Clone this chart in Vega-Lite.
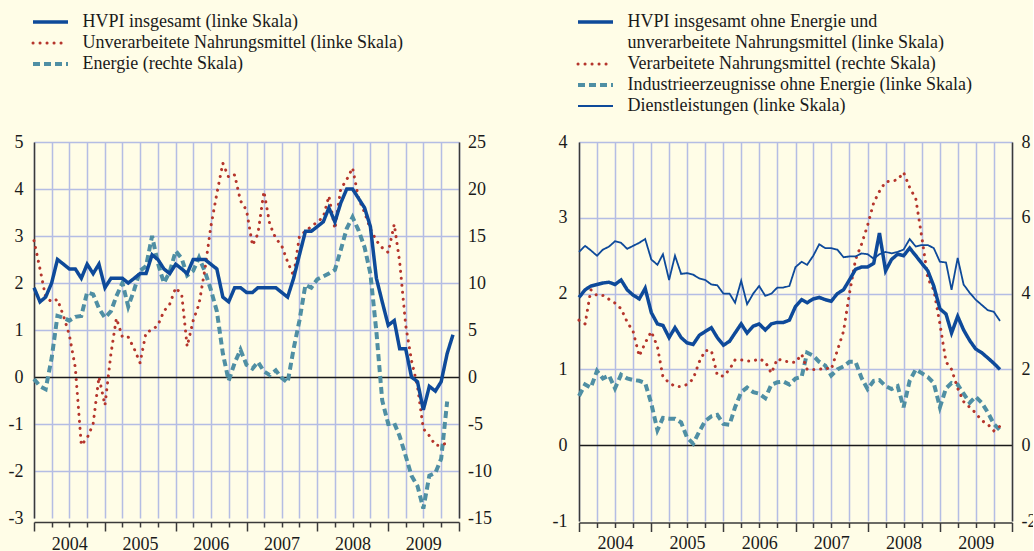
{
"$schema": "https://vega.github.io/schema/vega-lite/v6.json",
"background": "#fffde7",
"padding": {"left": 8, "top": 13, "right": -3, "bottom": -3},
"spacing": 60,
"config": {
  "view": {"stroke": null},
  "font": "Liberation Serif",
  "axis": {"labelFont": "Liberation Serif", "labelFontSize": 18, "labelColor": "#1a1a1a", "domainColor": "#3a3a3a", "domainWidth": 1.5, "ticks": false, "title": null, "gridColor": "#b4bde4", "gridWidth": 1.5},
  "legend": {"direction": "vertical", "padding": 0, "symbolType": "M-3.5,0H3.5", "symbolSize": 100, "symbolOffset": 8.5, "labelOffset": 23, "labelFont": "Liberation Serif", "labelFontSize": 18, "labelColor": "#1a1a1a", "rowPadding": 3, "labelLimit": 700}
},
"datasets": {
"L": [
{"d":"2004-01-01","h":1.9,"f":2.9,"e":-0.2},
{"d":"2004-02-01","h":1.6,"f":2.3,"e":-1.0},
{"d":"2004-03-01","h":1.7,"f":1.7,"e":-1.3},
{"d":"2004-04-01","h":2.0,"f":1.6,"e":2.0},
{"d":"2004-05-01","h":2.5,"f":1.65,"e":6.5},
{"d":"2004-06-01","h":2.4,"f":1.3,"e":6.3},
{"d":"2004-07-01","h":2.3,"f":0.9,"e":6.0},
{"d":"2004-08-01","h":2.3,"f":0.2,"e":6.4},
{"d":"2004-09-01","h":2.1,"f":-1.45,"e":6.5},
{"d":"2004-10-01","h":2.4,"f":-1.3,"e":9.0},
{"d":"2004-11-01","h":2.2,"f":-1.0,"e":8.8},
{"d":"2004-12-01","h":2.4,"f":0.0,"e":7.3},
{"d":"2005-01-01","h":1.9,"f":-0.6,"e":6.3},
{"d":"2005-02-01","h":2.1,"f":0.5,"e":7.0},
{"d":"2005-03-01","h":2.1,"f":1.25,"e":8.6},
{"d":"2005-04-01","h":2.1,"f":0.85,"e":10.0},
{"d":"2005-05-01","h":2.0,"f":0.85,"e":7.5},
{"d":"2005-06-01","h":2.1,"f":0.6,"e":9.3},
{"d":"2005-07-01","h":2.2,"f":0.3,"e":11.3},
{"d":"2005-08-01","h":2.2,"f":0.95,"e":11.8},
{"d":"2005-09-01","h":2.6,"f":1.0,"e":15.0},
{"d":"2005-10-01","h":2.5,"f":1.1,"e":12.1},
{"d":"2005-11-01","h":2.3,"f":1.4,"e":10.0},
{"d":"2005-12-01","h":2.2,"f":1.55,"e":11.2},
{"d":"2006-01-01","h":2.4,"f":1.9,"e":13.4},
{"d":"2006-02-01","h":2.3,"f":1.75,"e":12.6},
{"d":"2006-03-01","h":2.2,"f":0.65,"e":10.8},
{"d":"2006-04-01","h":2.5,"f":1.2,"e":11.3},
{"d":"2006-05-01","h":2.5,"f":1.55,"e":12.7},
{"d":"2006-06-01","h":2.5,"f":2.3,"e":11.2},
{"d":"2006-07-01","h":2.4,"f":3.2,"e":9.3},
{"d":"2006-08-01","h":2.3,"f":3.9,"e":7.0},
{"d":"2006-09-01","h":1.7,"f":4.55,"e":2.5},
{"d":"2006-10-01","h":1.6,"f":4.25,"e":-0.4},
{"d":"2006-11-01","h":1.9,"f":4.3,"e":1.5},
{"d":"2006-12-01","h":1.9,"f":3.75,"e":2.9},
{"d":"2007-01-01","h":1.8,"f":3.55,"e":1.3},
{"d":"2007-02-01","h":1.8,"f":2.8,"e":0.9},
{"d":"2007-03-01","h":1.9,"f":3.05,"e":1.6},
{"d":"2007-04-01","h":1.9,"f":3.95,"e":0.6},
{"d":"2007-05-01","h":1.9,"f":3.25,"e":0.2},
{"d":"2007-06-01","h":1.9,"f":2.95,"e":0.7},
{"d":"2007-07-01","h":1.8,"f":2.8,"e":-0.1},
{"d":"2007-08-01","h":1.7,"f":2.45,"e":-0.6},
{"d":"2007-09-01","h":2.1,"f":2.15,"e":3.0},
{"d":"2007-10-01","h":2.6,"f":3.0,"e":6.0},
{"d":"2007-11-01","h":3.1,"f":3.1,"e":9.8},
{"d":"2007-12-01","h":3.1,"f":3.2,"e":9.5},
{"d":"2008-01-01","h":3.2,"f":3.3,"e":10.4},
{"d":"2008-02-01","h":3.3,"f":3.4,"e":10.7},
{"d":"2008-03-01","h":3.6,"f":3.85,"e":11.0},
{"d":"2008-04-01","h":3.3,"f":3.15,"e":11.4},
{"d":"2008-05-01","h":3.7,"f":4.0,"e":13.5},
{"d":"2008-06-01","h":4.0,"f":4.2,"e":15.8},
{"d":"2008-07-01","h":4.0,"f":4.45,"e":17.0},
{"d":"2008-08-01","h":3.8,"f":3.8,"e":15.6},
{"d":"2008-09-01","h":3.6,"f":3.5,"e":13.8},
{"d":"2008-10-01","h":3.2,"f":3.15,"e":11.0},
{"d":"2008-11-01","h":2.1,"f":2.9,"e":4.8},
{"d":"2008-12-01","h":1.6,"f":2.75,"e":-2.5},
{"d":"2009-01-01","h":1.1,"f":2.65,"e":-5.0},
{"d":"2009-02-01","h":1.2,"f":3.25,"e":-4.9},
{"d":"2009-03-01","h":0.6,"f":2.45,"e":-6.3},
{"d":"2009-04-01","h":0.6,"f":1.1,"e":-8.4},
{"d":"2009-05-01","h":0.0,"f":0.35,"e":-10.5},
{"d":"2009-06-01","h":-0.1,"f":-0.2,"e":-11.6},
{"d":"2009-07-01","h":-0.7,"f":-1.1,"e":-14.0},
{"d":"2009-08-01","h":-0.2,"f":-1.25,"e":-10.5},
{"d":"2009-09-01","h":-0.3,"f":-1.45,"e":-10.2},
{"d":"2009-10-01","h":-0.1,"f":-1.45,"e":-8.7},
{"d":"2009-11-01","h":0.5,"f":-1.4,"e":-2.6},
{"d":"2009-12-01","h":0.9}
],
"R": [
{"d":"2004-01-01","c":1.95,"p":3.3,"i":0.65,"s":2.55},
{"d":"2004-02-01","c":2.05,"p":3.2,"i":0.8,"s":2.63},
{"d":"2004-03-01","c":2.1,"p":4.1,"i":0.76,"s":2.57},
{"d":"2004-04-01","c":2.12,"p":3.95,"i":0.98,"s":2.5},
{"d":"2004-05-01","c":2.14,"p":3.95,"i":0.88,"s":2.58},
{"d":"2004-06-01","c":2.15,"p":3.85,"i":0.92,"s":2.62},
{"d":"2004-07-01","c":2.12,"p":3.75,"i":0.75,"s":2.69},
{"d":"2004-08-01","c":2.18,"p":3.6,"i":0.93,"s":2.67},
{"d":"2004-09-01","c":2.05,"p":3.25,"i":0.88,"s":2.59},
{"d":"2004-10-01","c":1.98,"p":3.0,"i":0.86,"s":2.63},
{"d":"2004-11-01","c":1.93,"p":2.35,"i":0.85,"s":2.67},
{"d":"2004-12-01","c":2.07,"p":2.7,"i":0.82,"s":2.72},
{"d":"2005-01-01","c":1.75,"p":3.0,"i":0.55,"s":2.45},
{"d":"2005-02-01","c":1.6,"p":2.6,"i":0.2,"s":2.38},
{"d":"2005-03-01","c":1.58,"p":1.8,"i":0.36,"s":2.52},
{"d":"2005-04-01","c":1.42,"p":1.65,"i":0.35,"s":2.18},
{"d":"2005-05-01","c":1.55,"p":1.55,"i":0.35,"s":2.5},
{"d":"2005-06-01","c":1.42,"p":1.55,"i":0.3,"s":2.26},
{"d":"2005-07-01","c":1.35,"p":1.6,"i":0.1,"s":2.27},
{"d":"2005-08-01","c":1.33,"p":1.75,"i":0.02,"s":2.25},
{"d":"2005-09-01","c":1.45,"p":2.2,"i":0.18,"s":2.2},
{"d":"2005-10-01","c":1.5,"p":2.5,"i":0.32,"s":2.18},
{"d":"2005-11-01","c":1.55,"p":2.5,"i":0.38,"s":2.12},
{"d":"2005-12-01","c":1.42,"p":1.85,"i":0.4,"s":2.11},
{"d":"2006-01-01","c":1.32,"p":1.82,"i":0.28,"s":2.0},
{"d":"2006-02-01","c":1.37,"p":2.0,"i":0.27,"s":2.0},
{"d":"2006-03-01","c":1.48,"p":2.25,"i":0.5,"s":1.88},
{"d":"2006-04-01","c":1.6,"p":2.25,"i":0.7,"s":2.17},
{"d":"2006-05-01","c":1.48,"p":2.22,"i":0.76,"s":1.86},
{"d":"2006-06-01","c":1.57,"p":2.22,"i":0.7,"s":2.0},
{"d":"2006-07-01","c":1.6,"p":2.28,"i":0.68,"s":2.1},
{"d":"2006-08-01","c":1.52,"p":2.2,"i":0.62,"s":1.97},
{"d":"2006-09-01","c":1.6,"p":1.9,"i":0.8,"s":2.0},
{"d":"2006-10-01","c":1.62,"p":2.28,"i":0.83,"s":2.08},
{"d":"2006-11-01","c":1.62,"p":2.22,"i":0.84,"s":2.08},
{"d":"2006-12-01","c":1.65,"p":2.2,"i":0.8,"s":2.1},
{"d":"2007-01-01","c":1.83,"p":2.18,"i":0.88,"s":2.35},
{"d":"2007-02-01","c":1.92,"p":2.4,"i":0.9,"s":2.42},
{"d":"2007-03-01","c":1.88,"p":2.0,"i":1.22,"s":2.38},
{"d":"2007-04-01","c":1.93,"p":2.0,"i":1.18,"s":2.5},
{"d":"2007-05-01","c":1.95,"p":2.0,"i":1.1,"s":2.65},
{"d":"2007-06-01","c":1.92,"p":2.04,"i":1.05,"s":2.6},
{"d":"2007-07-01","c":1.9,"p":2.0,"i":0.92,"s":2.6},
{"d":"2007-08-01","c":2.0,"p":2.5,"i":1.0,"s":2.58},
{"d":"2007-09-01","c":2.05,"p":3.0,"i":1.04,"s":2.48},
{"d":"2007-10-01","c":2.18,"p":4.0,"i":1.1,"s":2.49},
{"d":"2007-11-01","c":2.32,"p":4.9,"i":1.1,"s":2.49},
{"d":"2007-12-01","c":2.35,"p":5.3,"i":0.89,"s":2.53},
{"d":"2008-01-01","c":2.35,"p":5.8,"i":0.74,"s":2.52},
{"d":"2008-02-01","c":2.4,"p":6.4,"i":0.85,"s":2.46},
{"d":"2008-03-01","c":2.8,"p":6.7,"i":0.86,"s":2.52},
{"d":"2008-04-01","c":2.3,"p":6.95,"i":0.78,"s":2.55},
{"d":"2008-05-01","c":2.45,"p":6.97,"i":0.74,"s":2.53},
{"d":"2008-06-01","c":2.52,"p":7.0,"i":0.78,"s":2.55},
{"d":"2008-07-01","c":2.5,"p":7.2,"i":0.5,"s":2.58},
{"d":"2008-08-01","c":2.6,"p":6.8,"i":0.85,"s":2.72},
{"d":"2008-09-01","c":2.5,"p":6.5,"i":1.0,"s":2.62},
{"d":"2008-10-01","c":2.4,"p":5.5,"i":0.95,"s":2.64},
{"d":"2008-11-01","c":2.3,"p":4.4,"i":0.9,"s":2.64},
{"d":"2008-12-01","c":2.1,"p":4.1,"i":0.82,"s":2.6},
{"d":"2009-01-01","c":1.8,"p":3.2,"i":0.5,"s":2.42},
{"d":"2009-02-01","c":1.73,"p":2.2,"i":0.75,"s":2.41},
{"d":"2009-03-01","c":1.48,"p":2.0,"i":0.82,"s":2.05},
{"d":"2009-04-01","c":1.7,"p":1.5,"i":0.8,"s":2.47},
{"d":"2009-05-01","c":1.52,"p":1.15,"i":0.68,"s":2.12},
{"d":"2009-06-01","c":1.38,"p":1.0,"i":0.56,"s":2.01},
{"d":"2009-07-01","c":1.27,"p":0.85,"i":0.64,"s":1.92},
{"d":"2009-08-01","c":1.22,"p":0.65,"i":0.56,"s":1.85},
{"d":"2009-09-01","c":1.15,"p":0.55,"i":0.43,"s":1.78},
{"d":"2009-10-01","c":1.08,"p":0.38,"i":0.28,"s":1.76},
{"d":"2009-11-01","c":1.0,"p":0.5,"i":0.2,"s":1.64}
]
},
"hconcat": [
{
  "width": 425, "height": 376,
  "data": {"name": "L"},
  "transform": [{"fold": ["h", "f", "e"], "as": ["k", "v"]}],
  "encoding": {
    "x": {"field": "d", "type": "temporal",
      "scale": {"type": "utc", "domain": [{"year":2004,"month":1,"date":1,"utc":true},{"year":2010,"month":1,"date":1,"utc":true}]},
      "axis": {
        "values": [{"year":2004,"month":1,"date":1,"utc":true},{"year":2004,"month":4,"date":1,"utc":true},{"year":2004,"month":7,"date":1,"utc":true},{"year":2004,"month":10,"date":1,"utc":true},
                   {"year":2005,"month":1,"date":1,"utc":true},{"year":2005,"month":4,"date":1,"utc":true},{"year":2005,"month":7,"date":1,"utc":true},{"year":2005,"month":10,"date":1,"utc":true},
                   {"year":2006,"month":1,"date":1,"utc":true},{"year":2006,"month":4,"date":1,"utc":true},{"year":2006,"month":7,"date":1,"utc":true},{"year":2006,"month":10,"date":1,"utc":true},
                   {"year":2007,"month":1,"date":1,"utc":true},{"year":2007,"month":4,"date":1,"utc":true},{"year":2007,"month":7,"date":1,"utc":true},{"year":2007,"month":10,"date":1,"utc":true},
                   {"year":2008,"month":1,"date":1,"utc":true},{"year":2008,"month":4,"date":1,"utc":true},{"year":2008,"month":7,"date":1,"utc":true},{"year":2008,"month":10,"date":1,"utc":true},
                   {"year":2009,"month":1,"date":1,"utc":true},{"year":2009,"month":4,"date":1,"utc":true},{"year":2009,"month":7,"date":1,"utc":true},{"year":2009,"month":10,"date":1,"utc":true},
                   {"year":2010,"month":1,"date":1,"utc":true}],
        "labelExpr": "utcFormat(datum.value, '%m') === '07' ? utcFormat(datum.value, '%Y') : ''",
        "grid": true, "ticks": true,
        "tickSize": {"condition": {"test": "utcFormat(datum.value, '%m') === '01'", "value": 9}, "value": 5},
        "tickColor": "#3a3a3a", "tickWidth": 1.5, "offset": 4, "labelPadding": 8,
        "labelOverlap": false, "labelFlush": false, "labelBaseline": "top"
      }
    },
    "color": {"field": "k", "type": "nominal", "title": null,
      "scale": {"domain": ["h", "f", "e"], "range": ["#0e4a9a", "#b5352c", "#4f8fa4"]},
      "legend": {"orient": "none", "legendX": -1, "legendY": -129,
        "encode": {"symbols": {"update": {"strokeCap": [{"test": "datum.value === 'f'", "value": "round"}, {"value": "butt"}]}}},
        "labelExpr": "datum.label === 'h' ? 'HVPI insgesamt (linke Skala)' : datum.label === 'f' ? 'Unverarbeitete Nahrungsmittel (linke Skala)' : 'Energie (rechte Skala)'"}},
    "strokeDash": {"field": "k", "type": "nominal", "title": null,
      "scale": {"domain": ["h", "f", "e"], "range": [[1, 0], [0.1, 6.9], [7, 4]]}},
    "strokeWidth": {"field": "k", "type": "nominal", "title": null,
      "scale": {"type": "ordinal", "domain": ["h", "f", "e"], "range": [3.5, 3, 4]}}
  },
  "layer": [
    {"transform": [{"filter": "datum.k === 'e'"}], "mark": {"type": "line"},
     "encoding": {"y": {"field": "v", "type": "quantitative", "scale": {"domain": [-15, 25], "nice": false, "zero": false},
        "axis": {"orient": "right", "values": [-15,-10,-5,0,5,10,15,20,25], "labelExpr": "datum.value + ''", "grid": false, "labelPadding": 8.5}}}},
    {"transform": [{"filter": "datum.k === 'f'"}], "mark": {"type": "line", "strokeCap": "round"},
     "encoding": {"y": {"field": "v", "type": "quantitative", "scale": {"domain": [-3, 5], "nice": false, "zero": false}, "axis": null}}},
    {"transform": [{"filter": "datum.k === 'h'"}], "mark": {"type": "line"},
     "encoding": {"y": {"field": "v", "type": "quantitative", "scale": {"domain": [-3, 5], "nice": false, "zero": false},
        "axis": {"orient": "left", "values": [-3,-2,-1,0,1,2,3,4,5], "labelExpr": "datum.value + ''", "grid": true,
          "gridColor": {"condition": {"test": "datum.value === 0", "value": "#1a1a1a"}, "value": "#b4bde4"},
          "gridOpacity": {"condition": {"test": "datum.value === -3", "value": 0}, "value": 1},
          "labelPadding": 11}}}}
  ],
  "resolve": {"scale": {"y": "independent"}}
},
{
  "width": 433, "height": 379,
  "data": {"name": "R"},
  "transform": [{"fold": ["c", "p", "i", "s"], "as": ["k", "v"]}],
  "encoding": {
    "x": {"field": "d", "type": "temporal",
      "scale": {"type": "utc", "domain": [{"year":2004,"month":1,"date":1,"utc":true},{"year":2010,"month":1,"date":1,"utc":true}]},
      "axis": {
        "values": [{"year":2004,"month":1,"date":1,"utc":true},{"year":2004,"month":4,"date":1,"utc":true},{"year":2004,"month":7,"date":1,"utc":true},{"year":2004,"month":10,"date":1,"utc":true},
                   {"year":2005,"month":1,"date":1,"utc":true},{"year":2005,"month":4,"date":1,"utc":true},{"year":2005,"month":7,"date":1,"utc":true},{"year":2005,"month":10,"date":1,"utc":true},
                   {"year":2006,"month":1,"date":1,"utc":true},{"year":2006,"month":4,"date":1,"utc":true},{"year":2006,"month":7,"date":1,"utc":true},{"year":2006,"month":10,"date":1,"utc":true},
                   {"year":2007,"month":1,"date":1,"utc":true},{"year":2007,"month":4,"date":1,"utc":true},{"year":2007,"month":7,"date":1,"utc":true},{"year":2007,"month":10,"date":1,"utc":true},
                   {"year":2008,"month":1,"date":1,"utc":true},{"year":2008,"month":4,"date":1,"utc":true},{"year":2008,"month":7,"date":1,"utc":true},{"year":2008,"month":10,"date":1,"utc":true},
                   {"year":2009,"month":1,"date":1,"utc":true},{"year":2009,"month":4,"date":1,"utc":true},{"year":2009,"month":7,"date":1,"utc":true},{"year":2009,"month":10,"date":1,"utc":true},
                   {"year":2010,"month":1,"date":1,"utc":true}],
        "labelExpr": "utcFormat(datum.value, '%m') === '07' ? utcFormat(datum.value, '%Y') : ''",
        "grid": true, "ticks": true,
        "tickSize": {"condition": {"test": "utcFormat(datum.value, '%m') === '01'", "value": 9}, "value": 5},
        "tickColor": "#3a3a3a", "tickWidth": 1.5, "offset": 1.5, "labelPadding": 7.3,
        "labelOverlap": false, "labelFlush": false, "labelBaseline": "top"
      }
    },
    "color": {"field": "k", "type": "nominal", "title": null,
      "scale": {"domain": ["c", "b", "p", "i", "s"], "range": ["#0e4a9a", "rgba(0,0,0,0)", "#b5352c", "#4f8fa4", "#0e4a9a"]},
      "legend": {"orient": "none", "legendX": -1, "legendY": -129,
        "encode": {"symbols": {"update": {"strokeCap": [{"test": "datum.value === 'p'", "value": "round"}, {"value": "butt"}]}}},
        "labelExpr": "datum.label === 'c' ? 'HVPI insgesamt ohne Energie und' : datum.label === 'b' ? 'unverarbeitete Nahrungsmittel (linke Skala)' : datum.label === 'p' ? 'Verarbeitete Nahrungsmittel (rechte Skala)' : datum.label === 'i' ? 'Industrieerzeugnisse ohne Energie (linke Skala)' : 'Dienstleistungen (linke Skala)'"}},
    "strokeDash": {"field": "k", "type": "nominal", "title": null,
      "scale": {"domain": ["c", "b", "p", "i", "s"], "range": [[1, 0], [1, 0], [0.1, 6.9], [7, 4], [1, 0]]}},
    "strokeWidth": {"field": "k", "type": "nominal", "title": null,
      "scale": {"type": "ordinal", "domain": ["c", "b", "p", "i", "s"], "range": [3.5, 0, 3, 4, 1.8]}}
  },
  "layer": [
    {"transform": [{"filter": "datum.k === 'i'"}], "mark": {"type": "line"},
     "encoding": {"y": {"field": "v", "type": "quantitative", "scale": {"domain": [-1, 4], "nice": false, "zero": false},
        "axis": {"orient": "left", "values": [-1,0,1,2,3,4], "labelExpr": "datum.value + ''", "grid": true,
          "gridColor": {"condition": {"test": "datum.value === 0", "value": "#1a1a1a"}, "value": "#b4bde4"},
          "gridOpacity": {"condition": {"test": "datum.value === -1", "value": 0}, "value": 1},
          "labelPadding": 12}}}},
    {"transform": [{"filter": "datum.k === 'p'"}], "mark": {"type": "line", "strokeCap": "round"},
     "encoding": {"y": {"field": "v", "type": "quantitative", "scale": {"domain": [-2, 8], "nice": false, "zero": false},
        "axis": {"orient": "right", "values": [-2,0,2,4,6,8], "labelExpr": "datum.value + ''", "grid": false, "labelPadding": 9}}}},
    {"transform": [{"filter": "datum.k === 's'"}], "mark": {"type": "line"},
     "encoding": {"y": {"field": "v", "type": "quantitative", "scale": {"domain": [-1, 4], "nice": false, "zero": false}, "axis": null}}},
    {"transform": [{"filter": "datum.k === 'c'"}], "mark": {"type": "line"},
     "encoding": {"y": {"field": "v", "type": "quantitative", "scale": {"domain": [-1, 4], "nice": false, "zero": false}, "axis": null}}}
  ],
  "resolve": {"scale": {"y": "independent"}}
}
],
"resolve": {"scale": {"color": "independent", "strokeDash": "independent", "strokeWidth": "independent"}}
}
